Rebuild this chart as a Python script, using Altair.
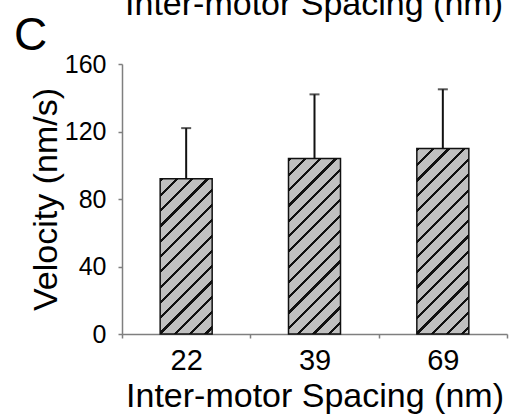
import math
import altair as alt
import pandas as pd

# ---- data ----
spacing = ["22", "39", "69"]          # inter-motor spacing (nm)
velocity = [92, 104, 110]             # mean velocity (nm/s)
error_top = [122, 142, 145]           # mean + SD (upper whisker)
y_ticks = [0, 40, 80, 120, 160]
top_text = ["Inter-motor Spacing (nm)"]   # cut-off title of the panel above
panel_label = ["C"]

# ---- layout / style ----
W, H = 385, 270
YMAX = 160
BAR_W = 52
FONT = "Liberation Sans"
FILL_GRAY = "#c0c0c0"
INK = "#111111"
PERIOD = 15.3   # hatch period measured along x+y (px)
THICK = 3.2     # hatch line thickness along x+y (px)


def hatch(value):
    """45-degree '/' hatching as a hard-stop linear gradient for a bar of this value."""
    w = BAR_W
    h = value * H / YMAX
    d = w * w + h * h
    px, py = w * (w + h) / d, h * (w + h) / d
    L = w + h
    stops = []
    k = 0
    while k * PERIOD < L:
        a = k * PERIOD / L
        b = min(1.0, (k * PERIOD + THICK) / L)
        c = min(1.0, (k + 1) * PERIOD / L)
        stops += [
            {"offset": a, "color": INK},
            {"offset": b, "color": INK},
            {"offset": b, "color": FILL_GRAY},
            {"offset": c, "color": FILL_GRAY},
        ]
        k += 1
    return {"gradient": "linear", "x1": 0, "y1": 0, "x2": px, "y2": py, "stops": stops}


df = pd.DataFrame({"spacing": spacing, "velocity": velocity, "top": error_top})

x_enc = alt.X(
    "spacing:N",
    sort=spacing,
    scale=alt.Scale(paddingInner=0, paddingOuter=0),
    axis=alt.Axis(title="Inter-motor Spacing (nm)", labelAngle=0, tickBand="extent",
                  labelFontSize=29, labelPadding=8, titlePadding=4),
)
y_enc = alt.Y(
    "velocity:Q",
    scale=alt.Scale(domain=[0, YMAX], nice=False),
    axis=alt.Axis(title="Velocity (nm/s)", values=y_ticks, labelFontSize=25,
                  labelPadding=12, titlePadding=1),
)

layers = []
for s, v in zip(spacing, velocity):
    layers.append(
        alt.Chart(df)
        .transform_filter(alt.datum.spacing == s)
        .mark_bar(size=BAR_W, fill=hatch(v), stroke=INK, strokeWidth=1.5)
        .encode(x=x_enc, y=y_enc)
    )

err = alt.Chart(df).mark_rule(color=INK, strokeWidth=2).encode(
    x=x_enc, y=alt.Y("velocity:Q"), y2="top:Q"
)
cap = alt.Chart(df).mark_tick(color=INK, size=10, thickness=2).encode(
    x=x_enc, y=alt.Y("top:Q")
)

top_title = alt.Chart(pd.DataFrame({"t": top_text})).mark_text(
    font=FONT, fontSize=34, align="center", baseline="alphabetic", color="black"
).encode(x=alt.value(192), y=alt.value(-49), text="t:N")

label_c = alt.Chart(pd.DataFrame({"t": panel_label})).mark_text(
    font=FONT, fontSize=46, align="left", baseline="alphabetic", color="black"
).encode(x=alt.value(-108), y=alt.value(-14), text="t:N")

chart = (
    alt.layer(*layers, err, cap, top_title, label_c)
    .properties(
        width=W,
        height=H,
        padding={"left": 122, "top": 64, "right": 5, "bottom": 82},
        autosize=alt.AutoSizeParams(type="none"),
        background="white",
    )
    .configure_view(strokeWidth=0)
    .configure_axis(
        grid=False,
        domainColor="#7f7f7f",
        tickColor="#7f7f7f",
        domainWidth=1.5,
        tickWidth=1.5,
        tickSize=4,
        labelFont=FONT,
        titleFont=FONT,
        titleFontSize=34,
        labelColor="black",
        titleColor="black",
        titleFontWeight="normal",
    )
)

chart.save("out.html", embed_options={"renderer": "svg", "actions": False})
